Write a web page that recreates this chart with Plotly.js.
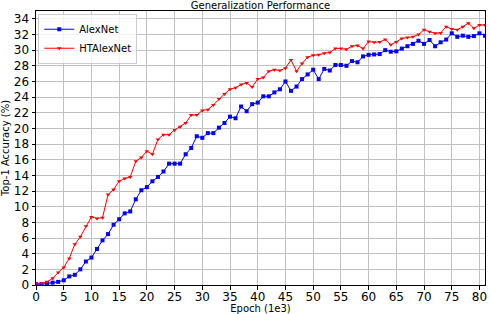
<!DOCTYPE html>
<html>
<head>
<meta charset="utf-8">
<script src="https://cdn.plot.ly/plotly-3.0.1.min.js"></script>
<style>html,body{margin:0;padding:0;background:#fff;}#chart{width:490px;height:314px;}</style>
</head>
<body>
<div id="chart"></div>
<script>
const epochs = Array.from({length: 82}, (_, i) => i);
const alexnet = [
  0.1, 0.1, 0.2, 0.3, 0.4, 0.6, 1.1, 1.3, 2.0, 3.0,
  3.5, 4.6, 5.7, 6.5, 7.7, 8.4, 9.15, 9.4, 10.95, 12.1,
  12.5, 13.25, 13.8, 14.5, 15.5, 15.5, 15.5, 16.7, 17.5, 19.0,
  18.8, 19.4, 19.4, 20.1, 20.7, 21.5, 21.3, 22.8, 22.2, 23.1,
  23.3, 24.1, 24.1, 24.6, 25.0, 26.0, 24.8, 25.35, 26.3, 26.9,
  27.5, 26.3, 27.6, 27.4, 28.1, 28.1, 28.0, 28.6, 28.45, 29.2,
  29.4, 29.45, 29.5, 30.0, 29.8, 29.85, 30.2, 30.5, 30.8, 31.2,
  30.8, 31.3, 30.5, 31.0, 31.35, 32.15, 31.7, 31.85, 31.7, 31.8,
  32.15, 31.85
];
const htalexnet = [
  0.2, 0.2, 0.4, 0.85, 1.6, 2.25, 3.4, 5.2, 6.15, 7.5,
  8.7, 8.5, 8.6, 11.55, 12.2, 13.25, 13.6, 13.8, 15.8, 16.3,
  17.1, 16.7, 18.6, 19.2, 19.2, 19.8, 20.2, 20.7, 21.7, 21.7,
  22.3, 22.4, 23.0, 23.75, 24.4, 25.0, 25.2, 25.6, 25.8, 25.3,
  26.3, 26.5, 27.3, 27.5, 27.4, 27.7, 28.75, 27.3, 28.3, 29.1,
  29.35, 29.4, 29.6, 29.7, 30.2, 30.2, 30.1, 30.5, 30.6, 30.2,
  31.1, 31.0, 31.05, 31.35, 30.7, 31.05, 31.5, 31.6, 31.7, 32.0,
  32.6, 32.35, 32.15, 32.2, 33.0, 32.7, 32.6, 33.0, 33.45, 32.8,
  33.2, 33.2
];
const seriesNames = ["AlexNet", "HTAlexNet"];
const xTicks = [0,5,10,15,20,25,30,35,40,45,50,55,60,65,70,75,80];
const yTicks = [0,2,4,6,8,10,12,14,16,18,20,22,24,26,28,30,32,34];

const font = "DejaVu Sans, sans-serif";
const traces = [
  {x: epochs, y: alexnet, name: seriesNames[0], mode: "lines+markers",
   line: {color: "#0000ff", width: 1}, marker: {symbol: "square", size: 4, color: "#0000ff"}},
  {x: epochs, y: htalexnet, name: seriesNames[1], mode: "lines+markers",
   line: {color: "#ff0000", width: 1}, marker: {symbol: "triangle-down", size: 4, color: "#ff0000"}}
];
const axisCommon = {
  showgrid: true, gridcolor: "#c0c0c0", gridwidth: 1,
  showline: true, mirror: true, linecolor: "#000", linewidth: 1,
  ticks: "outside", ticklen: 3.5, tickcolor: "#000", tickwidth: 1,
  zeroline: false, tickfont: {family: font, size: 12, color: "#000"}
};
const layout = {
  width: 490, height: 314,
  margin: {l: 36, r: 5, t: 11, b: 29},
  paper_bgcolor: "#fff", plot_bgcolor: "#fff",
  font: {family: font, color: "#000"},
  title: {text: "Generalization Performance", font: {family: font, size: 10, color: "#000"},
          x: 0.5, xref: "paper", xanchor: "center", y: 0.982, yanchor: "middle", yref: "container"},
  xaxis: Object.assign({}, axisCommon, {range: [0, 81], tickvals: xTicks, ticktext: xTicks.map(String),
    ticklabelstandoff: -3,
    title: {text: "Epoch (1e3)", font: {family: font, size: 10}}}),
  yaxis: Object.assign({}, axisCommon, {range: [0, 35], tickvals: yTicks, ticktext: yTicks.map(String),
    title: {text: "Top-1 Accuracy (%)", font: {family: font, size: 10}}}),
  legend: {x: 0.005, y: 0.99, xanchor: "left", yanchor: "top",
           bgcolor: "rgba(255,255,255,0.8)", bordercolor: "#cccccc", borderwidth: 1,
           font: {family: font, size: 10}, tracegroupgap: 0},
  showlegend: true
};
Plotly.newPlot("chart", traces, layout, {displayModeBar: false, staticPlot: true});
</script>
</body>
</html>
